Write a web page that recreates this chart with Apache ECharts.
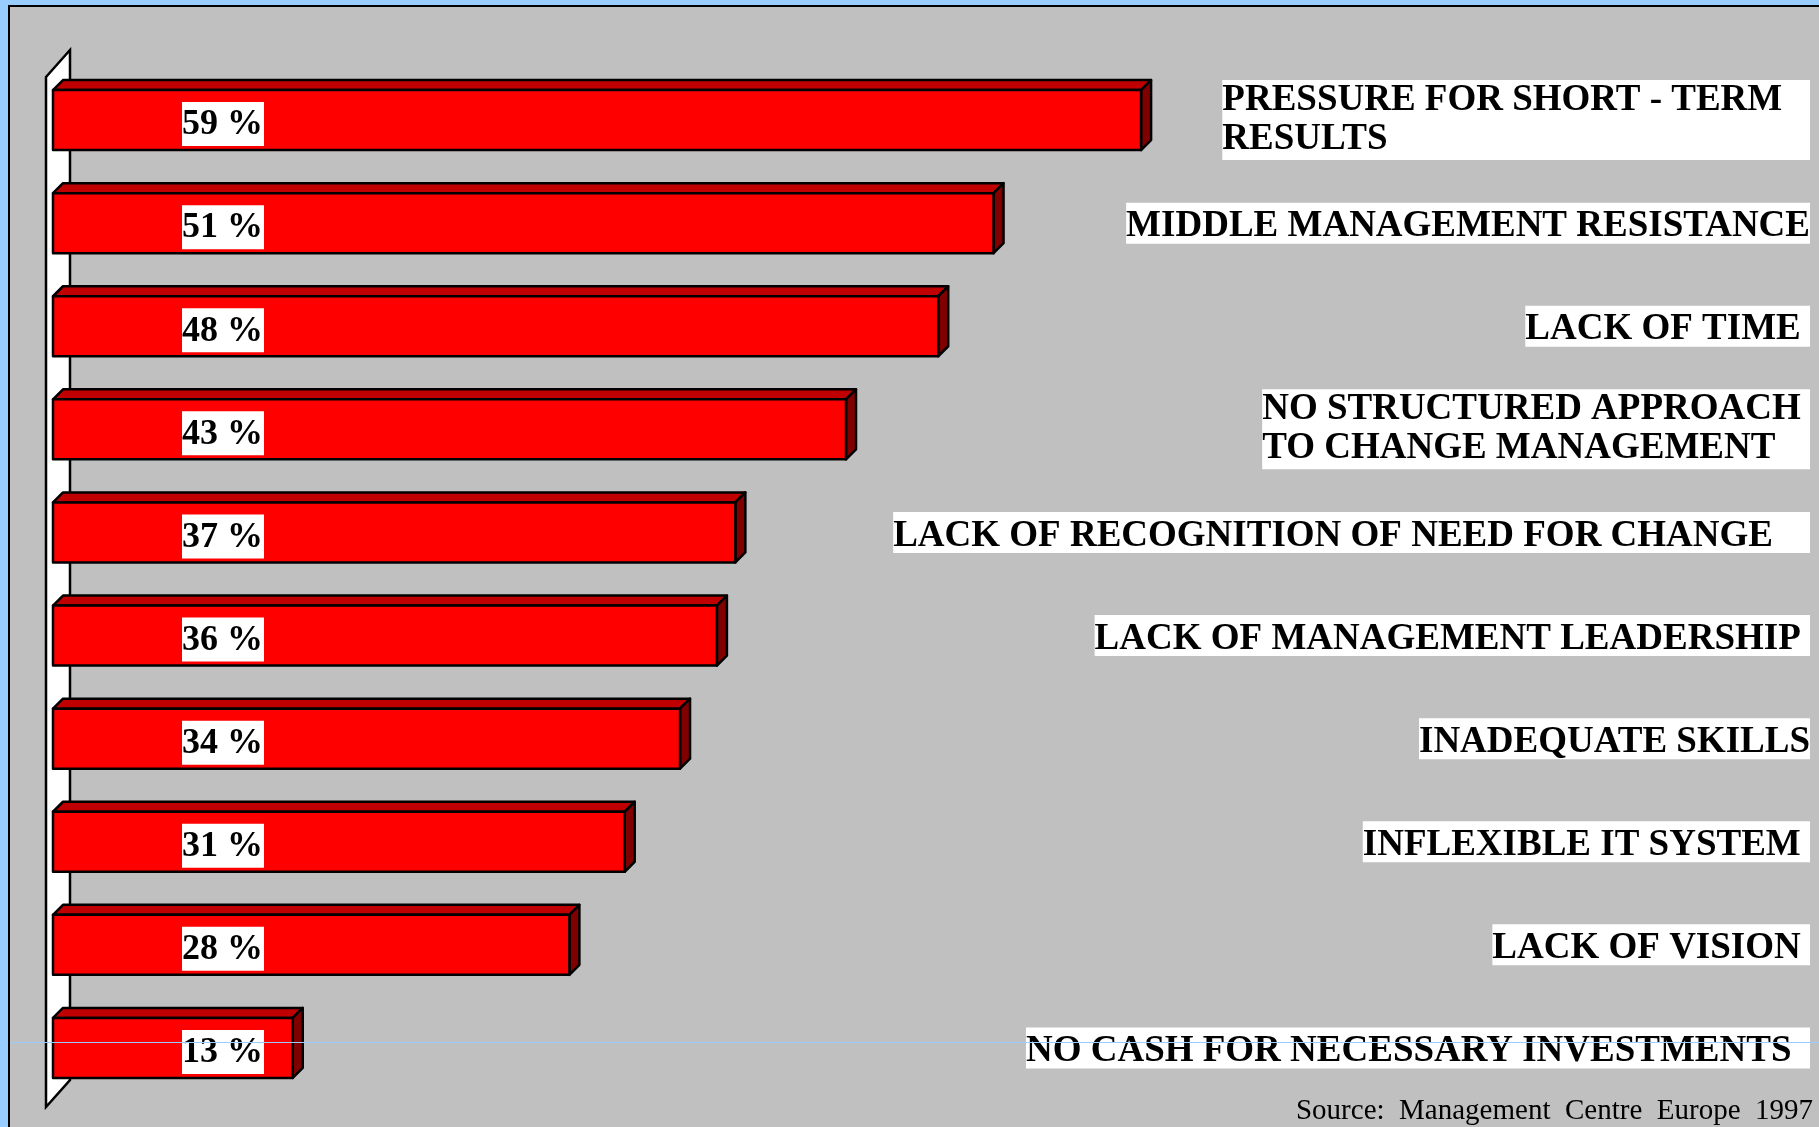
<!DOCTYPE html>
<html>
<head>
<meta charset="utf-8">
<title>Barriers to change</title>
<script src="https://cdn.jsdelivr.net/npm/echarts@6/dist/echarts.min.js"></script>
<style>
  html, body { margin: 0; padding: 0; background: #99ccff; }
  #main { width: 1819px; height: 1127px; }
</style>
</head>
<body>
<div id="main"></div>
<script>
// data, top to bottom
const categories = [
  'PRESSURE FOR SHORT - TERM   \nRESULTS',
  'MIDDLE MANAGEMENT RESISTANCE',
  'LACK OF TIME ',
  'NO STRUCTURED APPROACH \nTO CHANGE MANAGEMENT',
  'LACK OF RECOGNITION OF NEED FOR CHANGE    ',
  'LACK OF MANAGEMENT LEADERSHIP ',
  'INADEQUATE SKILLS',
  'INFLEXIBLE IT SYSTEM ',
  'LACK OF VISION ',
  'NO CASH FOR NECESSARY INVESTMENTS  '
];
const values = [59, 51, 48, 43, 37, 36, 34, 31, 28, 13];
const sourceText = 'Source:  Management  Centre  Europe  1997';

const serif = '"Liberation Serif", "Times New Roman", serif';
const depth = 10;

const chart = echarts.init(document.getElementById('main'));

const renderBar = (params, api) => {
  const idx = api.value(1);
  const val = api.value(0);
  const p0 = api.coord([0, idx]);
  const p1 = api.coord([val, idx]);
  const h = api.size([0, 1])[1] * 0.582;
  const x0 = p0[0], x1 = p1[0];
  const top = p0[1] - h / 2, bottom = p0[1] + h / 2;
  const stroke = { stroke: '#000', lineWidth: 2.5, lineJoin: 'round' };
  return {
    type: 'group',
    children: [
      {
        type: 'polygon',
        shape: { points: [[x0, top], [x0 + depth, top - depth], [x1 + depth, top - depth], [x1, top]] },
        style: Object.assign({ fill: '#c00000' }, stroke)
      },
      {
        type: 'polygon',
        shape: { points: [[x1, top], [x1 + depth, top - depth], [x1 + depth, bottom - depth], [x1, bottom]] },
        style: Object.assign({ fill: '#800000' }, stroke)
      },
      {
        type: 'rect',
        shape: { x: x0, y: top, width: x1 - x0, height: h },
        style: Object.assign({ fill: '#ff0000' }, stroke)
      },
      {
        type: 'text',
        z2: 10,
        style: {
          text: val + ' %',
          x: x0 + 129,
          y: top + 12,
          align: 'left',
          verticalAlign: 'top',
          font: 'bold 36px ' + serif,
          fill: '#000',
          backgroundColor: '#fff',
          lineHeight: 42,
          padding: [2, 1, 0, 0]
        }
      }
    ]
  };
};

const option = {
  backgroundColor: '#99ccff',
  animation: false,
  title: {
    text: sourceText,
    right: 6,
    top: 1097,
    padding: 0,
    textStyle: { fontFamily: serif, fontWeight: 'normal', fontSize: 29, color: '#000' }
  },
  grid: { left: 53, width: 1752, top: 68.5, height: 1031 },
  xAxis: {
    type: 'value',
    min: 0,
    max: 95,
    show: false
  },
  yAxis: {
    type: 'category',
    data: categories,
    inverse: true,
    position: 'right',
    z: 5,
    axisLine: { show: false },
    axisTick: { show: false },
    splitLine: { show: false },
    axisLabel: {
      interval: 0,
      align: 'right',
      margin: 5,
      backgroundColor: '#fff',
      padding: [1, 0, 1, 0],
      formatter: (v, i) => {
        const lines = v.split('\n');
        // the single line labels sit a little below the bar centre
        const tag = lines.length > 1 ? 't' : 's';
        return lines.map(l => '{' + tag + '|' + l + '}').join('\n');
      },
      rich: {
        t: { fontFamily: serif, fontWeight: 'bold', fontSize: 37, lineHeight: 39, color: '#000', align: 'left' },
        s: { fontFamily: serif, fontWeight: 'bold', fontSize: 37, lineHeight: 39, color: '#000', align: 'left', padding: [7, 0, 0, 0] }
      }
    }
  },
  graphic: [
    {
      type: 'rect',
      z: -10,
      shape: { x: 9, y: 6, width: 1830, height: 1140 },
      style: { fill: '#c0c0c0', stroke: '#000', lineWidth: 2 }
    },
    {
      // back wall
      type: 'polygon',
      z: -5,
      shape: { points: [[46, 77], [70, 50], [70, 1080], [46, 1107]] },
      style: { fill: '#fff', stroke: '#000', lineWidth: 2.5 }
    },
    {
      type: 'line',
      z: 100,
      shape: { x1: 10, y1: 1042.5, x2: 1819, y2: 1042.5 },
      style: { stroke: '#99ccff', lineWidth: 1 }
    }
  ],
  series: [
    {
      type: 'custom',
      renderItem: renderBar,
      encode: { x: 0, y: 1 },
      data: values.map((v, i) => [v, i])
    }
  ]
};

chart.setOption(option);
</script>
</body>
</html>
